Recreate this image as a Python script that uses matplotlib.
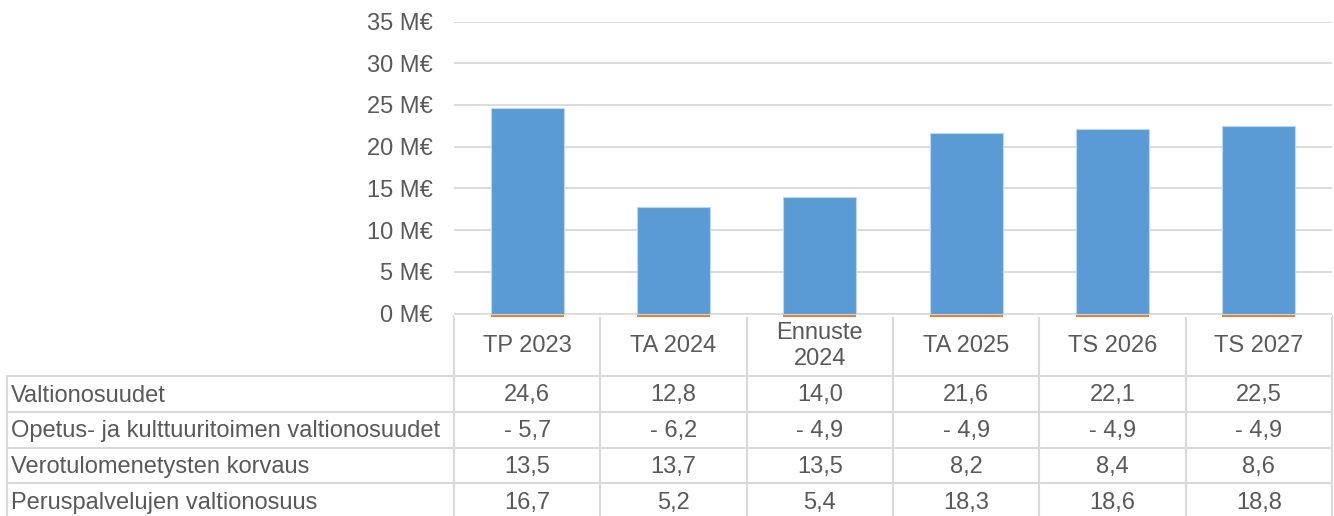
import matplotlib
matplotlib.use("Agg")
import matplotlib.pyplot as plt
import matplotlib.transforms as mtransforms
from matplotlib.ticker import FuncFormatter

# data
categories = ["TP 2023", "TA 2024", "Ennuste\n2024", "TA 2025", "TS 2026", "TS 2027"]
series_names = ["Valtionosuudet",
                "Opetus- ja kulttuuritoimen valtionosuudet",
                "Verotulomenetysten korvaus",
                "Peruspalvelujen valtionosuus"]
valtionosuudet = [24.6, 12.8, 14.0, 21.6, 22.1, 22.5]
opetus = [-5.7, -6.2, -4.9, -4.9, -4.9, -4.9]
verotulo = [13.5, 13.7, 13.5, 8.2, 8.4, 8.6]
peruspalvelu = [16.7, 5.2, 5.4, 18.3, 18.6, 18.8]
yticks = [0, 5, 10, 15, 20, 25, 30, 35]

series_values = [valtionosuudet, opetus, verotulo, peruspalvelu]

plt.rcParams['font.family'] = ['Liberation Sans', 'DejaVu Sans']
TXT = "#595959"
GRID = "#D9D9D9"
BLUE = "#5B9BD5"
ORANGE = "#ED7D31"
FS = 17

W, H = 1334, 516
fig = plt.figure(figsize=(W / 100, H / 100), dpi=100)

# pixel layout of plot area
left, right = 454, 1332
zero_px, top_px = 313.5, 21.5
ymin = -0.45
px_per_unit = (zero_px - top_px) / 35.0
bottom_px = zero_px - ymin * px_per_unit

ax = fig.add_axes([left / W, 1 - bottom_px / H, (right - left) / W, (bottom_px - top_px) / H])
x = list(range(len(categories)))

# only the first two series are visible as columns (the negative one is clipped at 0)
ax.bar(x, opetus, width=0.5, color=ORANGE, zorder=2)
ax.bar(x, valtionosuudet, width=0.5, color=BLUE, edgecolor="#BDD7EE",
       linewidth=0.8, zorder=3)

ax.set_xlim(-0.5, len(categories) - 0.5)
ax.set_ylim(ymin, 35)
ax.set_yticks(yticks)
ax.yaxis.set_major_formatter(FuncFormatter(lambda v, p: "%d M€" % v))
ax.tick_params(axis="y", length=0, pad=15, labelsize=FS, labelcolor=TXT)
ax.set_xticks([])
for s in ax.spines.values():
    s.set_visible(False)
for t in yticks:
    ax.axhline(t, color=GRID, lw=1.3, zorder=1)

# data table drawn in pixel coordinates
tab = fig.add_axes([0, 0, 1, 1], zorder=-1)
tab.set_xlim(0, W)
tab.set_ylim(H, 0)
tab.axis("off")
trans = mtransforms.blended_transform_factory(ax.transData, tab.transData)

row_lines = [376, 412, 448, 483, 519]
col_edges = [k - 0.5 for k in range(len(categories) + 1)]

tab.plot([left, right], [zero_px + 2, zero_px + 2], color=GRID, lw=1.5)
for y in row_lines:
    tab.plot([7, right], [y, y], color=GRID, lw=1.5)
tab.plot([7, 7], [row_lines[0], H], color=GRID, lw=1.5)
for e in col_edges:
    tab.plot([e, e], [zero_px + 2, H], color=GRID, lw=1.5, transform=trans)

for i, c in enumerate(categories):
    tab.text(i, 346, c, ha="center", va="center", fontsize=FS, color=TXT,
             transform=trans, linespacing=1.2)

for r, (name, vals) in enumerate(zip(series_names, series_values)):
    yc = (row_lines[r] + row_lines[r + 1]) / 2 + 1.5
    tab.text(11, yc, name, ha="left", va="center", fontsize=FS, color=TXT)
    for i, v in enumerate(vals):
        s = ("%.1f" % abs(v)).replace(".", ",")
        if v < 0:
            s = "- " + s
        tab.text(i, yc, s, ha="center", va="center", fontsize=FS, color=TXT,
                 transform=trans)

fig.savefig("out.png", dpi=100)
